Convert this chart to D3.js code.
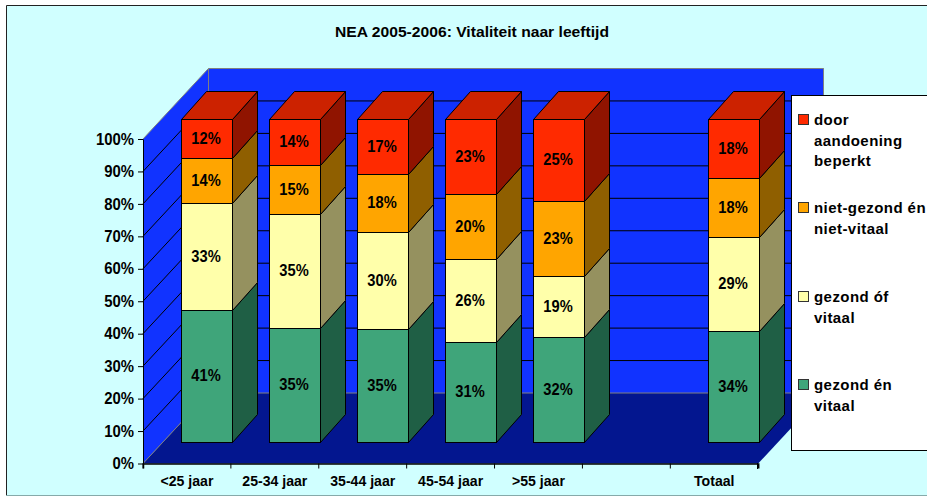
<!DOCTYPE html>
<html>
<head>
<meta charset="utf-8" />
<title>NEA 2005-2006</title>
<script src="https://d3js.org/d3.v7.min.js"></script>
<style>
  html, body { margin: 0; padding: 0; background: #fff; }
  svg { display: block; }
  text { font-family: "Liberation Sans", Arial, sans-serif; font-weight: bold; fill: #000; }
</style>
</head>
<body>
<div id="chart"></div>
<script>
var w = 927, h = 497;

// categories, "" is the empty slot before Totaal
var categories = ['<25 jaar', '25-34 jaar', '35-44 jaar', '45-54 jaar', '>55 jaar', '', 'Totaal'];
var yTicks = [0, 10, 20, 30, 40, 50, 60, 70, 80, 90, 100];

// series, bottom to top
var seriesNames = ['gezond én vitaal', 'gezond óf vitaal', 'niet-gezond én niet-vitaal', 'door aandoening beperkt'];
var vitaal =  [40.9, 35.3, 35.0, 31.0, 32.4, null, 34.4];
var gezondOf = [33.1, 35.4, 30.0, 25.7, 18.9, null, 29.1];
var nietGezond = [13.9, 15.2, 18.0, 20.1, 23.4, null, 18.3];
var beperkt = [12.1, 14.1, 17.0, 23.2, 25.2, null, 18.2];

var frontColors = ['#3fa57a', '#ffffaa', '#ffa500', '#ff2a00'];
var sideColors = ['#1f5f45', '#95915f', '#8f5f00', '#901400'];
var topColor = '#cc2200';

var legendLines = [
  ['door', 'aandoening', 'beperkt'],
  ['niet-gezond én', 'niet-vitaal'],
  ['gezond óf', 'vitaal'],
  ['gezond én', 'vitaal']
];
var legendColors = ['#ff2a00', '#ffa500', '#ffffaa', '#3fa57a'];
var legendY = [120, 208, 297, 385];

var svg = d3.select('#chart').append('svg').attr('width', w).attr('height', h);

// squeeze text horizontally, the original font is narrower than it is tall
function squeeze(sel, k) {
  sel.each(function() {
    d3.select(this).attr('textLength', this.getComputedTextLength() * k).attr('lengthAdjust', 'spacingAndGlyphs');
  });
}

// chart area
svg.append('rect').attr('x', 6.5).attr('y', 5.5).attr('width', w).attr('height', 490)
  .attr('fill', '#d0ffff').attr('stroke', 'none');
svg.append('path').attr('d', 'M6.5,495 V5.5 H927').attr('fill', 'none').attr('stroke', '#222').attr('stroke-width', 1);
svg.append('line').attr('x1', 6).attr('x2', w).attr('y1', 495.5).attr('y2', 495.5).attr('stroke', '#86aaaa');

svg.append('text').attr('x', 472).attr('y', 37).attr('text-anchor', 'middle')
  .attr('font-size', 15.5).attr('textLength', 274).attr('lengthAdjust', 'spacingAndGlyphs')
  .text('NEA 2005-2006: Vitaliteit naar leeftijd');

// scales
var left0 = 143, right0 = 758.2;
var x = d3.scaleBand().domain(categories).range([left0, right0]);
var y = d3.scaleLinear().domain([0, 100]).range([463.5, 139]);

var wallDx = 65.5, wallDy = -70.5;
var barW = 51, barInset = 38, barDx = 25, barDy = -28;
var barH = d3.scaleLinear().domain([0, 100]).range([0, 323]);

function poly(pts) { return 'M' + pts.map(function(p) { return p.join(','); }).join('L') + 'Z'; }

// walls and floor
svg.append('path').attr('fill', '#1133ff')
  .attr('d', poly([[left0, y(100)], [left0 + wallDx, y(100) + wallDy], [left0 + wallDx, y(0) + wallDy], [left0, y(0)]]));
svg.append('path').attr('fill', '#1133ff')
  .attr('d', poly([[left0 + wallDx, y(100) + wallDy], [right0 + wallDx, y(100) + wallDy], [right0 + wallDx, y(0) + wallDy], [left0 + wallDx, y(0) + wallDy]]));
svg.append('path').attr('fill', '#03168f')
  .attr('d', poly([[left0, y(0)], [left0 + wallDx, y(0) + wallDy], [right0 + wallDx, y(0) + wallDy], [right0, y(0)]]));

// gridlines
yTicks.forEach(function(t) {
  var edge = t === 0 || t === 100;
  svg.append('path').attr('fill', 'none')
    .attr('stroke', edge ? '#808080' : '#000').attr('stroke-width', 1)
    .attr('d', 'M' + left0 + ',' + y(t) + 'L' + (left0 + wallDx) + ',' + (y(t) + wallDy) + 'H' + (right0 + wallDx));
});
svg.append('line').attr('x1', 208.5).attr('x2', 208.5).attr('y1', y(100) + wallDy).attr('y2', y(0) + wallDy).attr('stroke', '#808080');
svg.append('line').attr('x1', 823.5).attr('x2', 823.5).attr('y1', y(100) + wallDy).attr('y2', y(0) + wallDy).attr('stroke', '#808080');

// bars
var table = categories.map(function(c, i) {
  return { cat: c, a: vitaal[i], b: gezondOf[i], c: nietGezond[i], d: beperkt[i] };
}).filter(function(d) { return d.a !== null; });
var stacked = d3.stack().keys(['a', 'b', 'c', 'd'])(table);

var groups = svg.selectAll('g.bar').data(table).enter().append('g').attr('class', 'bar');
groups.each(function(row, i) {
  var g = d3.select(this);
  var left = Math.round(x(row.cat)) + barInset + .5, right = left + barW;
  var base = 442;
  stacked.forEach(function(layer, k) {
    var y0 = Math.round(base - barH(layer[i][0])) + .5, y1 = Math.round(base - barH(layer[i][1])) + .5;
    g.append('path').attr('fill', sideColors[k]).attr('stroke', '#000')
      .attr('d', poly([[right, y0], [right + barDx, y0 + barDy], [right + barDx, y1 + barDy], [right, y1]]));
    g.append('rect').attr('x', left).attr('y', y1).attr('width', barW).attr('height', y0 - y1)
      .attr('fill', frontColors[k]).attr('stroke', '#000');
    g.append('text').attr('x', left + barW / 2 - 1).attr('y', (y0 + y1) / 2 + 4.5)
      .attr('text-anchor', 'middle').attr('font-size', 16.3)
      .text(d3.format('.0f')(layer[i][1] - layer[i][0]) + '%')
      .call(squeeze, .9);
    if (k === 3) {
      g.append('path').attr('fill', topColor).attr('stroke', '#000')
        .attr('d', poly([[left, y1], [left + barDx, y1 + barDy], [right + barDx, y1 + barDy], [right, y1]]));
    }
  });
});

// axes
var yAxis = d3.axisLeft(y).tickValues(yTicks).tickFormat(function(d) { return d + '%'; }).tickSize(5).tickSizeOuter(0);
var gy = svg.append('g').attr('transform', 'translate(143,0)').call(yAxis);
var xAxis = d3.axisBottom(x).tickSize(5).tickSizeOuter(5).tickFormat(function(d) { return d; });
var gx = svg.append('g').attr('transform', 'translate(0,463.5)').call(xAxis);
gx.selectAll('.tick line').attr('transform', 'translate(' + (-x.step() / 2) + ',0)').attr('stroke', '#000');
svg.append('line').attr('x1', 757.5).attr('x2', 757.5).attr('y1', 463).attr('y2', 469).attr('stroke', '#000');
gy.selectAll('.domain, .tick line').attr('stroke', '#000');
gx.select('.domain').attr('stroke', '#000').attr('stroke-width', 1.5);
gy.selectAll('text').attr('font-size', 16).attr('font-family', '"Liberation Sans", Arial, sans-serif').attr('fill', '#000').attr('x', -9)
  .call(squeeze, .93);
gx.selectAll('text').attr('font-size', 14.1).attr('font-family', '"Liberation Sans", Arial, sans-serif').attr('fill', '#000').attr('y', 12.5);

// legend
svg.append('rect').attr('x', 791.5).attr('y', 95.5).attr('width', 140).attr('height', 355)
  .attr('fill', '#fff').attr('stroke', '#000');
legendLines.forEach(function(lines, i) {
  svg.append('rect').attr('x', 798.5).attr('y', legendY[i] - 5.5).attr('width', 10).attr('height', 10)
    .attr('fill', legendColors[i]).attr('stroke', '#333');
  lines.forEach(function(s, j) {
    svg.append('text').attr('x', 814).attr('y', legendY[i] + 5 + j * 20.5)
      .attr('font-size', 15).style('letter-spacing', '.44px').text(s);
  });
});
</script>
</body>
</html>
